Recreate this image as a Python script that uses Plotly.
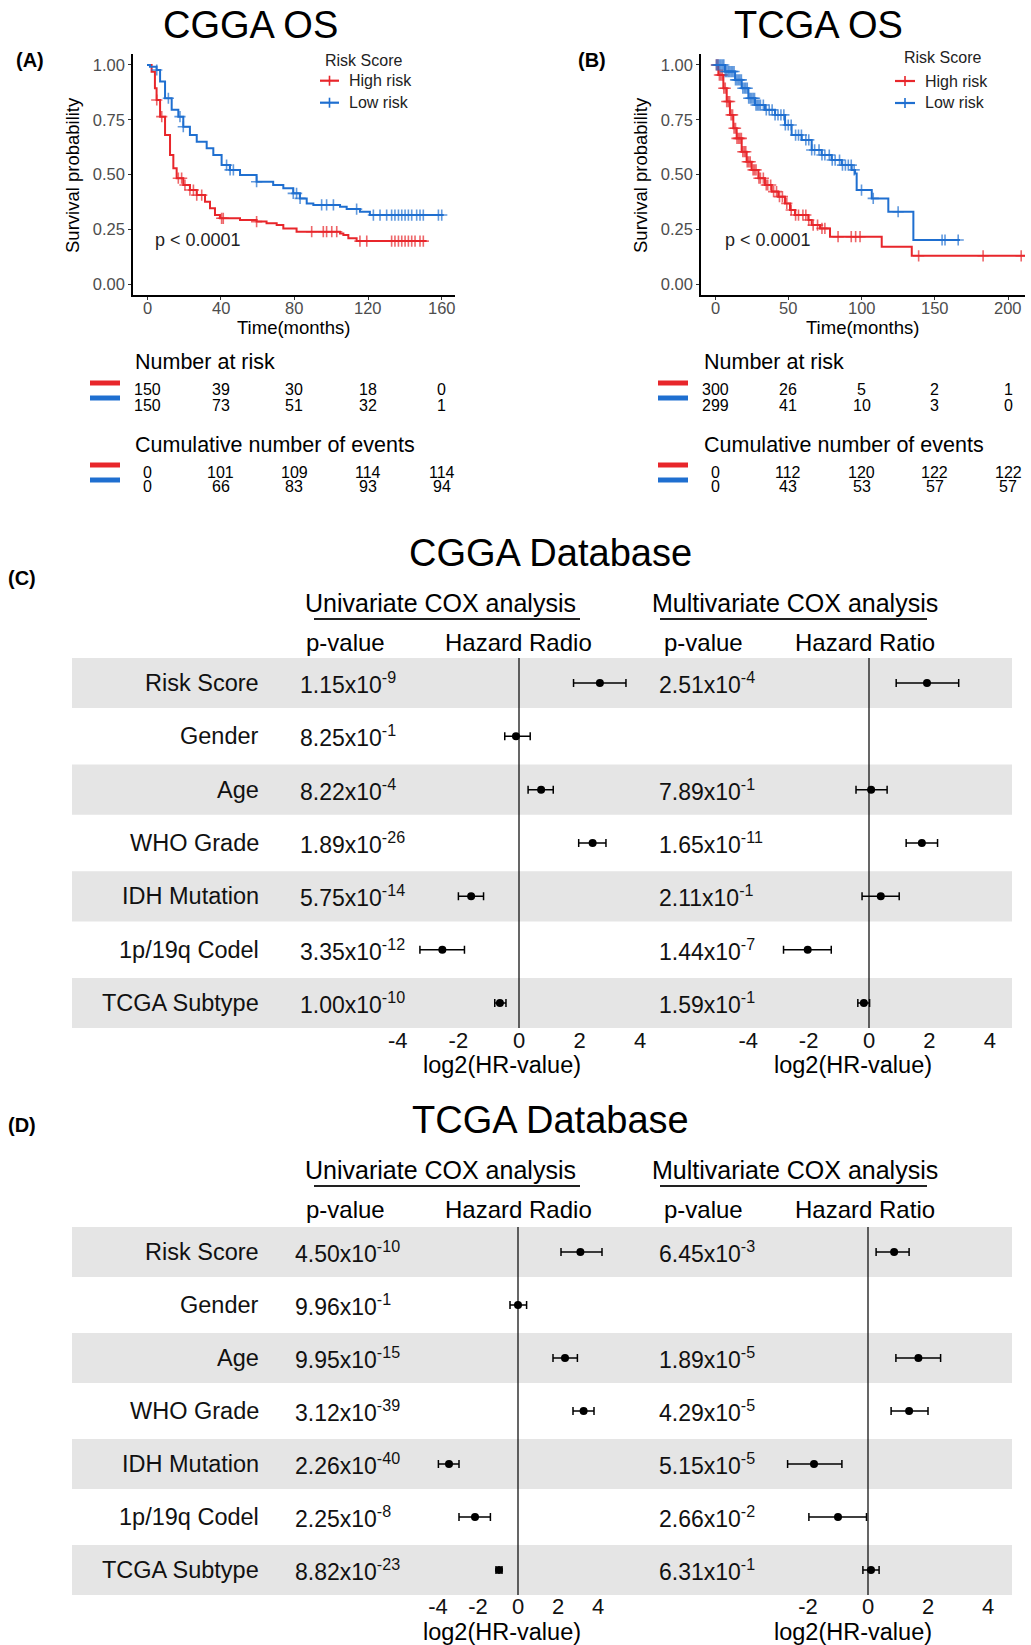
import numpy as np
import plotly.graph_objects as go

W, H = 1031, 1645
FONT = "Liberation Sans, Arial, sans-serif"
RED = "#E8262B"
BLUE = "#1F6FD0"

# ---------------- Kaplan-Meier data ----------------
A_high_t = [0, 2.5, 4.3, 5.2, 7.1, 9.8, 12.5, 14.3, 16.1, 19.7, 23.3, 27.0, 31.5, 34.2, 36.9, 39.6,
            50.5, 59.5, 64.9, 70.4, 74.0, 81.2, 104.8, 106.6, 109.3, 113.8, 151.8]
A_high_s = [1.0, 0.969, 0.894, 0.840, 0.764, 0.680, 0.589, 0.528, 0.483, 0.452, 0.429, 0.406, 0.376,
            0.346, 0.315, 0.300, 0.292, 0.285, 0.277, 0.270, 0.254, 0.239, 0.231, 0.224, 0.209, 0.196, 0.196]
A_high_cens = [5.3, 8.0, 17.0, 18.8, 20.6, 23.3, 25.2, 27.0, 29.7, 40.5, 41.4, 59.5, 89.4, 95.7, 97.5,
               100.3, 103.0, 115.6, 119.3, 132.8, 134.6, 136.5, 138.3, 140.1, 141.9, 143.7, 145.5,
               148.2, 150.0]

A_low_t = [0, 1.6, 5.2, 7.1, 9.8, 13.4, 17.0, 19.7, 23.3, 27.0, 32.4, 36.0, 40.5, 45.0, 50.5, 59.5,
           68.5, 74.0, 79.4, 83.0, 86.7, 90.3, 104.8, 108.4, 115.6, 121.0, 160.9]
A_low_s = [1.0, 0.992, 0.977, 0.924, 0.848, 0.795, 0.764, 0.718, 0.680, 0.650, 0.620, 0.589, 0.543,
           0.521, 0.498, 0.467, 0.452, 0.437, 0.414, 0.391, 0.368, 0.361, 0.353, 0.342, 0.330, 0.315, 0.315]
A_low_cens = [5.3, 11.6, 17.9, 19.7, 43.2, 45.1, 46.9, 59.5, 79.4, 81.2, 83.1, 94.8, 97.5, 101.2, 113.8,
              122.9, 126.5, 130.1, 132.8, 134.6, 136.5, 138.3, 140.1, 141.9, 143.7, 146.4, 148.2,
              150.0, 158.2, 160.0]

B_high_t = [0, 2.3, 5.7, 8.0, 10.2, 12.5, 14.8, 18.2, 21.6, 25.0, 29.6, 34.1, 38.7, 43.2, 47.8, 51.2,
            54.6, 63.7, 66.0, 71.7, 78.5, 113.8, 134.3, 211.6]
B_high_s = [1.0, 0.954, 0.894, 0.833, 0.772, 0.711, 0.665, 0.604, 0.558, 0.521, 0.483, 0.452, 0.422,
            0.399, 0.368, 0.338, 0.315, 0.292, 0.269, 0.254, 0.216, 0.170, 0.129, 0.129]
B_high_cens = [1, 2, 3, 4, 5, 6, 7, 8, 9, 10, 11, 12, 13, 14, 15, 16, 17, 18, 19, 20, 21, 22, 23, 24,
               26, 27, 28, 30, 31, 33, 35, 36, 38, 40, 42, 44, 46, 49, 52, 55, 57, 60, 62, 64, 67, 70,
               73, 75, 84, 93, 96, 99, 139, 183, 209]

B_low_t = [0, 6.8, 13.7, 18.2, 22.8, 27.3, 34.1, 41.0, 47.8, 52.3, 59.2, 66.0, 72.8, 79.6, 86.5, 93.3,
           95.6, 96.7, 107.0, 118.3, 135.4, 167.2]
B_low_s = [1.0, 0.970, 0.932, 0.894, 0.848, 0.817, 0.795, 0.772, 0.726, 0.680, 0.658, 0.612, 0.589,
           0.566, 0.543, 0.521, 0.505, 0.429, 0.391, 0.330, 0.201, 0.201]
B_low_cens = [1, 2, 3, 4, 5, 6, 7, 8, 9, 10, 11, 12, 13, 14, 15, 16, 17, 18, 19, 20, 21, 22, 23, 24,
              25, 26, 27, 28, 29, 30, 31, 33, 35, 37, 39, 41, 43, 45, 47, 48, 50, 52, 55, 57, 59, 62,
              64, 66, 68, 71, 73, 75, 78, 80, 82, 85, 87, 89, 91, 93, 95, 100, 108, 125, 155, 157, 166]

group_names = ["High risk", "Low risk"]

# ---------------- risk tables ----------------
A_ticks = [0, 40, 80, 120, 160]
A_risk_high = [150, 39, 30, 18, 0]
A_risk_low = [150, 73, 51, 32, 1]
A_events_high = [0, 101, 109, 114, 114]
A_events_low = [0, 66, 83, 93, 94]

B_ticks = [0, 50, 100, 150, 200]
B_risk_high = [300, 26, 5, 2, 1]
B_risk_low = [299, 41, 10, 3, 0]
B_events_high = [0, 112, 120, 122, 122]
B_events_low = [0, 43, 53, 57, 57]

# ---------------- forest data (log2 HR) ----------------
variables = ["Risk Score", "Gender", "Age", "WHO Grade", "IDH Mutation", "1p/19q Codel", "TCGA Subtype"]

C_uni_hr = [2.67, -0.10, 0.73, 2.43, -1.58, -2.53, -0.63]
C_uni_lo = [1.80, -0.47, 0.30, 1.97, -2.00, -3.27, -0.80]
C_uni_hi = [3.53, 0.37, 1.13, 2.87, -1.17, -1.80, -0.43]
C_uni_pm = ["1.15", "8.25", "8.22", "1.89", "5.75", "3.35", "1.00"]
C_uni_pe = ["-9", "-1", "-4", "-26", "-14", "-12", "-10"]

C_mul_hr = [1.92, None, 0.07, 1.75, 0.39, -2.03, -0.17]
C_mul_lo = [0.90, None, -0.43, 1.23, -0.23, -2.83, -0.37]
C_mul_hi = [2.97, None, 0.60, 2.27, 1.00, -1.25, 0.02]
C_mul_pm = ["2.51", None, "7.89", "1.65", "2.11", "1.44", "1.59"]
C_mul_pe = ["-4", None, "-1", "-11", "-1", "-7", "-1"]

D_uni_hr = [3.12, 0.00, 2.35, 3.28, -3.45, -2.15, -0.95]
D_uni_lo = [2.15, -0.40, 1.75, 2.75, -3.98, -2.95, -1.10]
D_uni_hi = [4.20, 0.43, 2.97, 3.80, -2.95, -1.38, -0.80]
D_uni_pm = ["4.50", "9.96", "9.95", "3.12", "2.26", "2.25", "8.82"]
D_uni_pe = ["-10", "-1", "-15", "-39", "-40", "-8", "-23"]

D_mul_hr = [0.87, None, 1.68, 1.37, -1.80, -1.00, 0.10]
D_mul_lo = [0.27, None, 0.93, 0.77, -2.68, -1.97, -0.17]
D_mul_hi = [1.37, None, 2.42, 2.00, -0.87, -0.05, 0.37]
D_mul_pm = ["6.45", None, "1.89", "4.29", "5.15", "2.66", "6.31"]
D_mul_pe = ["-3", None, "-5", "-5", "-5", "-2", "-1"]

forest_ticks = [-4, -2, 0, 2, 4]
forest_tick_text = ["-4", "-2", "0", "2", "4"]


def px(x):
    return x / W


def py(y):
    return 1 - y / H


fig = go.Figure()


def km_trace(t, s, cens, color, name, xa, ya):
    t = np.asarray(t, float)
    s = np.asarray(s, float)
    c = np.asarray(cens, float)
    cs = s[np.searchsorted(t, c, side="right") - 1]
    allt = np.concatenate([t, c])
    alls = np.concatenate([s, cs])
    sizes = np.concatenate([np.zeros(len(t)), np.full(len(c), 8)])
    o = np.argsort(allt, kind="stable")
    return go.Scatter(x=allt[o], y=alls[o], mode="lines+markers", name=name, showlegend=False,
                      line=dict(shape="hv", color=color, width=2),
                      marker=dict(symbol="cross-thin", size=sizes[o], color=color,
                                  line=dict(width=1.6, color=color)),
                      xaxis=xa, yaxis=ya, hoverinfo="skip")


fig.add_trace(km_trace(A_high_t, A_high_s, A_high_cens, RED, group_names[0], "x", "y"))
fig.add_trace(km_trace(A_low_t, A_low_s, A_low_cens, BLUE, group_names[1], "x", "y"))
fig.add_trace(km_trace(B_high_t, B_high_s, B_high_cens, RED, group_names[0], "x2", "y2"))
fig.add_trace(km_trace(B_low_t, B_low_s, B_low_cens, BLUE, group_names[1], "x2", "y2"))

annotations = []
shapes = []


def ann(text, x, y, size, xanchor="center", xref="paper", yref="paper", bold=False, color="black",
        angle=0):
    if bold:
        text = "<b>" + text + "</b>"
    annotations.append(dict(text=text, x=x, y=y, xref=xref, yref=yref, xanchor=xanchor,
                            yanchor="middle", showarrow=False, textangle=angle,
                            font=dict(family=FONT, size=size, color=color)))


def seg(x0, y0, x1, y1, color, width):
    shapes.append(dict(type="line", xref="paper", yref="paper", x0=px(x0), x1=px(x1),
                       y0=py(y0), y1=py(y1), line=dict(color=color, width=width)))


# KM axes
km_y_dom = [py(295), py(54)]
axis_common = dict(showline=True, linecolor="black", linewidth=1.5, ticks="outside", ticklen=3,
                   tickcolor="#333", tickwidth=1.2, showgrid=False, zeroline=False,
                   tickfont=dict(family=FONT, size=16.5, color="#4D4D4D"), automargin=False)
fig.update_layout(
    xaxis=dict(domain=[px(133), px(455)], range=[-7.6, 167.2], anchor="y", tickvals=A_ticks,
               showticklabels=False, **axis_common),
    yaxis=dict(domain=km_y_dom, range=[-0.05, 1.05], anchor="x", tickvals=[0, 0.25, 0.5, 0.75, 1.0],
               tickformat=".2f", **axis_common),
    xaxis2=dict(domain=[px(701), px(1025)], range=[-9.56, 211.6], anchor="y2", tickvals=B_ticks,
                showticklabels=False, **axis_common),
    yaxis2=dict(domain=km_y_dom, range=[-0.05, 1.05], anchor="x2", tickvals=[0, 0.25, 0.5, 0.75, 1.0],
                tickformat=".2f", **axis_common),
)
# x tick labels (placed on the axis scale) and axis titles
for t in A_ticks:
    ann(str(t), t, py(308), 16.5, xref="x", color="#4D4D4D")
for t in B_ticks:
    ann(str(t), t, py(308), 16.5, xref="x2", color="#4D4D4D")
ann("Time(months)", px(293), py(328), 18.5)
ann("Time(months)", px(862), py(328), 18.5)
ann("Survival probability", px(72), py(175), 18.5, angle=-90)
ann("Survival probability", px(640), py(175), 18.5, angle=-90)

# titles and panel letters
ann("CGGA OS", px(250), py(25), 38)
ann("TCGA OS", px(818), py(25), 38)
ann("(A)", px(30), py(60), 20, bold=True)
ann("(B)", px(592), py(60), 20, bold=True)
ann("(C)", px(22), py(578), 20, bold=True)
ann("(D)", px(22), py(1125), 20, bold=True)

# p-values on KM
ann("p < 0.0001", 3.3, 0.2, 18, xanchor="left", xref="x", yref="y", color="#222")
ann("p < 0.0001", 5.5, 0.2, 18, xanchor="left", xref="x2", yref="y2", color="#222")


# KM legends
def km_legend(title_x, title_y, line_x0, line_x1, text_x, rows_y):
    ann("Risk Score", px(title_x), py(title_y), 16, xanchor="left", color="#222")
    for name, col, yy in zip(group_names, [RED, BLUE], rows_y):
        seg(line_x0, yy, line_x1, yy, col, 2.2)
        cx = (line_x0 + line_x1) / 2
        seg(cx, yy - 5, cx, yy + 5, col, 1.6)
        ann(name, px(text_x), py(yy), 16, xanchor="left", color="#222")


km_legend(323, 60, 320, 339, 347, [80.7, 102.7])
km_legend(902, 58, 895, 915, 923, [81, 103])


# risk tables
def risk_table(xref, ticks, rh, rl, eh, el, left_px, bar_x0, bar_x1):
    ann("Number at risk", px(left_px), py(362), 21.5, xanchor="left")
    ann("Cumulative number of events", px(left_px), py(445), 21.5, xanchor="left")
    for i, t in enumerate(ticks):
        ann(str(rh[i]), t, py(390), 16, xref=xref)
        ann(str(rl[i]), t, py(405), 16, xref=xref)
        ann(str(eh[i]), t, py(473), 16, xref=xref)
        ann(str(el[i]), t, py(487), 16, xref=xref)
    for yy, col in [(383, RED), (398, BLUE), (465, RED), (480, BLUE)]:
        seg(bar_x0, yy, bar_x1, yy, col, 5)


risk_table("x", A_ticks, A_risk_high, A_risk_low, A_events_high, A_events_low, 133, 90, 120)
risk_table("x2", B_ticks, B_risk_high, B_risk_low, B_events_high, B_events_low, 702, 658, 688)


# ---------------- forest plots ----------------
def forest(yax, xa_u, xa_m, off, row1, row7, axis_y, uni0, uni_scale, uni_rng, mul0, mul_scale,
           mul_rng, title, uni, mul, uni_p_left):
    n = len(variables)
    spacing = (row7 - row1) / (n - 1)
    top = row1 - spacing / 2
    bot = row7 + spacing / 2
    fig.layout["yaxis" + yax[1:]] = dict(domain=[py(bot), py(top)], range=[n + 0.5, 0.5],
                                         visible=False, anchor="free", position=0)
    for xa, zero, sc, rng in [(xa_u, uni0, uni_scale, uni_rng), (xa_m, mul0, mul_scale, mul_rng)]:
        d0 = zero + rng[0] * sc
        d1 = zero + rng[1] * sc
        fig.layout["xaxis" + xa[1:]] = dict(domain=[px(d0), px(d1)], range=rng, anchor="free",
                                            position=py(axis_y),
                                            tickvals=forest_ticks, ticktext=forest_tick_text, ticks="",
                                            showline=False, showgrid=False, zeroline=False,
                                            tickfont=dict(family=FONT, size=22, color="#111"),
                                            automargin=False)
        shapes.append(dict(type="line", xref=xa, yref=yax, x0=0, x1=0, y0=0.53, y1=n + 0.47,
                           line=dict(color="black", width=1.2), layer="above"))
    for r in range(1, n + 1, 2):
        shapes.append(dict(type="rect", xref="paper", yref=yax, x0=px(72), x1=px(1012),
                           y0=r - 0.47, y1=r + 0.47, fillcolor="#E5E5E5", line=dict(width=0),
                           layer="below"))
    ann(title, px(550), py(553 + off), 38)
    ann("Univariate COX analysis", px(440), py(603 + off), 25)
    ann("Multivariate COX analysis", px(795), py(603 + off), 25)
    for x0, x1 in [(314, 580), (660, 927)]:
        seg(x0, 619 + off, x1, 619 + off, "#222", 2)
    ann("p-value", px(345), py(642 + off), 24)
    ann("Hazard Radio", px(518), py(642 + off), 24)
    ann("p-value", px(703), py(642 + off), 24)
    ann("Hazard Ratio", px(865), py(642 + off), 24)
    ann("log2(HR-value)", px(502), py(1065 + off), 23.5)
    ann("log2(HR-value)", px(853), py(1065 + off), 23.5)
    for i, v in enumerate(variables):
        ann(v, px(261), i + 1, 23.5, xanchor="right", yref=yax, color="#111")
    for (hr, lo, hi, pm, pe), xa, pleft in [(uni, xa_u, uni_p_left), (mul, xa_m, 657)]:
        xs, ys, ep, em = [], [], [], []
        for i in range(n):
            if hr[i] is None:
                continue
            xs.append(hr[i])
            ys.append(i + 1)
            ep.append(hi[i] - hr[i])
            em.append(hr[i] - lo[i])
            ann(pm[i] + "x10<sup>" + pe[i] + "</sup>", px(pleft), i + 1, 23, xanchor="left",
                yref=yax, color="#111")
        fig.add_trace(go.Scatter(x=xs, y=ys, mode="markers", xaxis=xa, yaxis=yax, showlegend=False,
                                 marker=dict(color="black", size=8),
                                 error_x=dict(type="data", symmetric=False, array=ep, arrayminus=em,
                                              color="black", thickness=1.5, width=4),
                                 hoverinfo="skip"))


forest("y3", "x3", "x4", 0, 683, 1003, 1025, 519, 30.3, [-4.6, 4.6], 869, 30.2, [-4.6, 4.6],
       "CGGA Database",
       (C_uni_hr, C_uni_lo, C_uni_hi, C_uni_pm, C_uni_pe),
       (C_mul_hr, C_mul_lo, C_mul_hi, C_mul_pm, C_mul_pe), 298)
forest("y4", "x5", "x6", 567, 1252, 1570, 1591, 518, 20.0, [-4.6, 4.6], 868, 30.0, [-3.2, 4.6],
       "TCGA Database",
       (D_uni_hr, D_uni_lo, D_uni_hi, D_uni_pm, D_uni_pe),
       (D_mul_hr, D_mul_lo, D_mul_hi, D_mul_pm, D_mul_pe), 293)

fig.update_layout(
    annotations=annotations, shapes=shapes,
    width=W, height=H, autosize=False, template="none",
    margin=dict(l=0, r=0, t=0, b=0), paper_bgcolor="white", plot_bgcolor="white",
    font=dict(family=FONT), showlegend=False,
)

# remove the default 8px page margin so the figure fills the window exactly
fig.write_html("out.html", config={"displayModeBar": False},
               post_script="document.body.style.margin='0';")
